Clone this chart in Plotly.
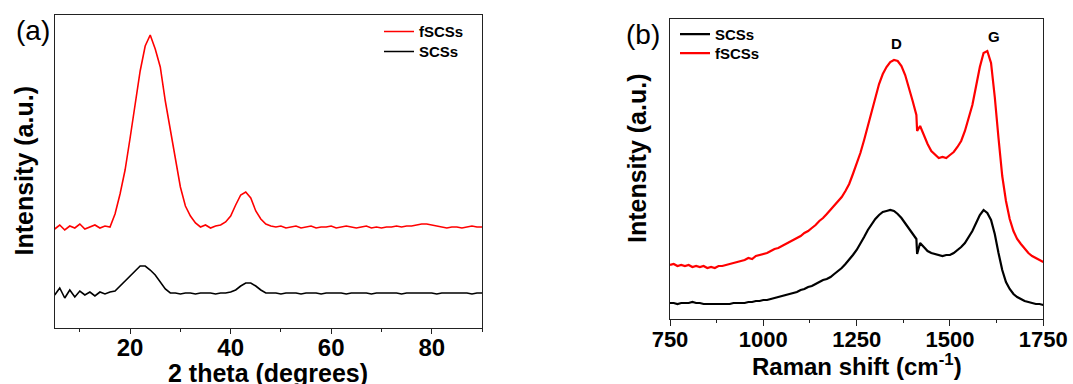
import plotly.graph_objects as go

# ---------------- Panel (a): XRD ----------------
two_theta = list(range(5, 91))
xrd_fscss = [99, 103, 98, 102, 100, 104, 99, 101, 103, 100, 102, 101, 114, 134, 158, 190, 223, 257, 282, 293,
             279, 261, 227, 197, 170, 141, 122, 112, 105, 101, 103, 100, 102, 103, 106, 112, 123, 133, 136, 130,
             117, 109, 104, 102, 101, 102, 100, 101, 102, 100, 101, 102, 100, 101, 101, 102, 100, 101, 102, 101,
             100, 101, 102, 100, 101, 100, 101, 101, 102, 101, 102, 102, 103, 104, 104, 103, 102, 101, 100, 101,
             101, 100, 101, 102, 101, 101]
xrd_scss = [33, 40, 30, 38, 31, 37, 33, 36, 32, 36, 34, 36, 37, 42, 47, 52, 58, 62, 62, 58,
            53, 46, 39, 35, 35, 34, 35, 35, 34, 35, 35, 35, 34, 35, 35, 36, 38, 42, 45, 45,
            42, 38, 35, 35, 35, 34, 35, 35, 35, 34, 35, 35, 35, 34, 35, 35, 35, 35, 34, 35,
            35, 35, 35, 34, 35, 35, 35, 35, 35, 34, 35, 35, 35, 35, 35, 35, 34, 35, 35, 35,
            35, 35, 35, 34, 35, 35]
xrd_ticks = [20, 40, 60, 80]

# ---------------- Panel (b): Raman ----------------
raman_shift = [750, 760, 770, 780, 790, 800, 810, 820, 830, 840, 850, 860, 870, 880, 890, 900, 910, 920, 930, 940,
               950, 960, 970, 980, 990, 1000, 1010, 1020, 1030, 1040, 1050, 1060, 1070, 1080, 1090, 1100, 1110,
               1120, 1130, 1140, 1150, 1160, 1170, 1180, 1190, 1200, 1210, 1220, 1230, 1240, 1250, 1260, 1270,
               1280, 1290, 1300, 1310, 1320, 1330, 1340, 1350, 1360, 1370, 1380, 1390, 1400, 1410, 1412, 1420,
               1430, 1440, 1450, 1460, 1470, 1480, 1490, 1500, 1510, 1520, 1530, 1540, 1550, 1560, 1570, 1580,
               1590, 1600, 1610, 1620, 1630, 1640, 1650, 1660, 1670, 1680, 1690, 1700, 1710, 1720, 1730, 1740, 1750]
raman_fscss = [54, 55, 53, 54, 53, 54, 52, 53, 52, 53, 51, 52, 51, 53, 53, 54, 55, 56, 57, 58,
               59, 61, 60, 63, 64, 65, 66, 68, 70, 71, 73, 75, 77, 79, 81, 83, 86,
               88, 91, 94, 98, 101, 105, 109, 113, 117, 122, 128, 135, 145, 155, 166, 179,
               193, 208, 222, 235, 245, 252, 257, 259, 258, 253, 244, 232, 218, 204, 188, 193,
               183, 175, 168, 164, 161, 162, 161, 164, 167, 172, 178, 188, 200, 214, 233, 252,
               266, 268, 256, 222, 181, 143, 118, 100, 88, 80, 75, 70, 66, 63, 61, 59, 57]
raman_scss = [16, 16, 15, 16, 16, 16, 17, 16, 16, 15, 15, 15, 15, 15, 15, 15, 15, 16, 16, 16,
              16, 17, 17, 18, 18, 19, 19, 20, 21, 22, 23, 24, 25, 26, 27, 29, 30,
              32, 33, 35, 37, 39, 40, 42, 45, 48, 51, 55, 59, 64, 69, 75, 82,
              89, 95, 100, 104, 107, 108, 109, 108, 105, 101, 96, 90, 85, 80, 65, 76,
              72, 68, 66, 65, 64, 63, 64, 64, 66, 69, 72, 76, 82, 88, 96, 104,
              109, 106, 99, 85, 66, 49, 37, 30, 25, 22, 20, 18, 17, 16, 15, 15, 14]
raman_ticks = [750, 1000, 1250, 1500, 1750]

W, H = 1073, 384
FONT = "Liberation Sans"

def px(xp):
    return xp / W

def py(yp):
    return 1 - yp / H

fig = go.Figure()

fig.add_trace(go.Scatter(x=two_theta, y=xrd_fscss, mode="lines", name="fSCSs",
                         line=dict(color="#ff0000", width=1.6), xaxis="x", yaxis="y", legend="legend"))
fig.add_trace(go.Scatter(x=two_theta, y=xrd_scss, mode="lines", name="SCSs",
                         line=dict(color="#000000", width=1.6), xaxis="x", yaxis="y", legend="legend2"))
fig.add_trace(go.Scatter(x=raman_shift, y=raman_scss, mode="lines", name="SCSs",
                         line=dict(color="#000000", width=2.2), xaxis="x2", yaxis="y2", legend="legend3"))
fig.add_trace(go.Scatter(x=raman_shift, y=raman_fscss, mode="lines", name="fSCSs",
                         line=dict(color="#ff0000", width=2.2), xaxis="x2", yaxis="y2", legend="legend4"))

axis_line = dict(showline=True, linecolor="#222", linewidth=1.3, mirror=True,
                 showgrid=False, zeroline=False, automargin=False)

def leg(xp, yc):
    return dict(x=px(xp), y=py(yc), xanchor="left", yanchor="middle", bgcolor="rgba(0,0,0,0)",
                font=dict(size=15, weight="bold", family=FONT), tracegroupgap=0, itemwidth=30)

fig.update_layout(
    width=W, height=H,
    margin=dict(l=0, r=0, t=0, b=0),
    paper_bgcolor="white", plot_bgcolor="white",
    font=dict(family=FONT, color="black"),
    xaxis=dict(domain=[px(54.7), px(482)], range=[5, 90], tickvals=xrd_ticks,
               ticks="outside", ticklen=5, tickwidth=1.3, tickcolor="#222",
               tickfont=dict(size=24, weight="bold", family=FONT), ticklabelstandoff=-7,
               minor=dict(dtick=10, tick0=0, ticks="outside", ticklen=3, tickcolor="#222", tickwidth=1),
               anchor="y", **axis_line),
    yaxis=dict(domain=[py(328), py(15)], range=[0, 313], showticklabels=False, ticks="",
               anchor="x", **axis_line),
    xaxis2=dict(domain=[px(670), px(1043.3)], range=[750, 1750], tickvals=raman_ticks,
                ticks="outside", ticklen=6, tickwidth=1.3, tickcolor="#222",
                tickfont=dict(size=22, weight="bold", family=FONT), ticklabelstandoff=-6,
                minor=dict(dtick=125, tick0=750, ticks="outside", ticklen=3, tickcolor="#222", tickwidth=1),
                anchor="y2", **axis_line),
    yaxis2=dict(domain=[py(319), py(19)], range=[0, 300], showticklabels=False, ticks="",
                anchor="x2", **axis_line),
    legend=leg(379, 31.7),
    legend2=leg(379, 51.7),
    legend3=leg(675, 34.3),
    legend4=leg(675, 53.3),
    showlegend=True,
)

ann = [
    dict(text="(a)", x=px(33.4), y=py(30), font=dict(size=28)),
    dict(text="(b)", x=px(643), y=py(34.7), font=dict(size=28)),
    dict(text="<b>2 theta (degrees)</b>", x=px(268.4), y=py(373), font=dict(size=25)),
    dict(text="<b>Raman shift (cm<sup>-1</sup>)</b>", x=px(857), y=py(365), font=dict(size=24)),
    dict(text="<b>Intensity (a.u.)</b>", x=px(24), y=py(171.5), textangle=-90, font=dict(size=25)),
    dict(text="<b>Intensity (a.u.)</b>", x=px(637), y=py(159), textangle=-90, font=dict(size=25)),
    dict(text="<b>D</b>", x=px(896.6), y=py(43.3), font=dict(size=15)),
    dict(text="<b>G</b>", x=px(993.5), y=py(36.7), font=dict(size=15)),
]
for a in ann:
    a.update(xref="paper", yref="paper", showarrow=False, xanchor="center", yanchor="middle")
    a["font"] = dict(family=FONT, color="black", **a["font"])
fig.update_layout(annotations=ann)

fig.write_html("out.html", config={"displayModeBar": False},
               post_script="document.body.style.margin='0px';")
